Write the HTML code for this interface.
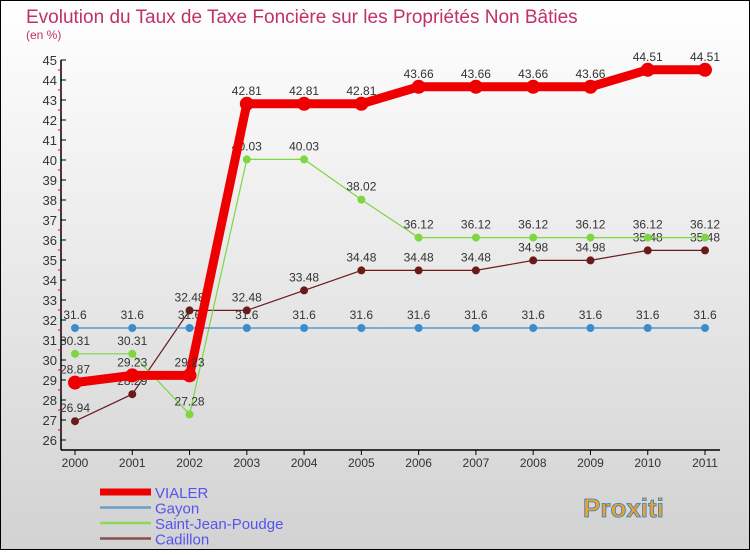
<!DOCTYPE html>
<html><head><meta charset="utf-8"><style>
body{margin:0;width:750px;height:550px;overflow:hidden;font-family:"Liberation Sans",sans-serif}
svg text{font-family:"Liberation Sans",sans-serif}
</style></head><body>
<svg id="chart" width="750" height="550" xmlns="http://www.w3.org/2000/svg">
<defs><linearGradient id="bg" x1="0" y1="0" x2="0" y2="1"><stop offset="0" stop-color="#ffffff"/><stop offset="1" stop-color="#d2d2d2"/></linearGradient></defs>
<rect x="0.5" y="0.5" width="749" height="549" fill="url(#bg)" stroke="#000"/>
<text x="26" y="23" font-size="19" fill="#c0306a">Evolution du Taux de Taxe Foncière sur les Propriétés Non Bâties</text>
<text x="26" y="39" font-size="12" fill="#c0306a">(en %)</text>
<g id="axes"></g>
<g id="series"></g>
<g id="legend"></g>
<text x="583" y="517" font-size="26" font-weight="bold" fill="#f0a030" stroke="#3080c0" stroke-width="0.8">Proxiti</text>
</svg>
<script>
const years=["2000","2001","2002","2003","2004","2005","2006","2007","2008","2009","2010","2011"];
const vialer=[28.87,29.23,29.23,42.81,42.81,42.81,43.66,43.66,43.66,43.66,44.51,44.51];
const gayon=[31.6,31.6,31.6,31.6,31.6,31.6,31.6,31.6,31.6,31.6,31.6,31.6];
const saintJean=[30.31,30.31,27.28,40.03,40.03,38.02,36.12,36.12,36.12,36.12,36.12,36.12];
const cadillon=[26.94,28.29,32.48,32.48,33.48,34.48,34.48,34.48,34.98,34.98,35.48,35.48];
const yTicks=[26,27,28,29,30,31,32,33,34,35,36,37,38,39,40,41,42,43,44,45];
const NS="http://www.w3.org/2000/svg";
function x(i){return 75+i*(630/11);}
function y(v){return 440-(v-26)*20;}
function mk(tag,attrs,parent){const e=document.createElementNS(NS,tag);for(const k in attrs)e.setAttribute(k,attrs[k]);parent.appendChild(e);return e;}
const axes=document.getElementById('axes');
let e=mk('line',{x1:61,y1:y(45),x2:61,y2:450,stroke:'#000','stroke-width':1.5},axes);


e=mk('line',{x1:61,y1:450,x2:720,y2:450,stroke:'#000','stroke-width':1.5},axes);


yTicks.forEach(t=>{
 mk('line',{x1:61,y1:y(t),x2:66,y2:y(t),stroke:'#000'},axes);
 if(t<45)mk('line',{x1:58,y1:y(t+0.5),x2:62,y2:y(t+0.5),stroke:'#e00'},axes);
 const tx=mk('text',{x:57,y:y(t)+5,'font-size':13,'text-anchor':'end',fill:'#333'},axes);
 tx.textContent=t;
 
 
});
years.forEach((yr,i)=>{
 mk('line',{x1:x(i),y1:450,x2:x(i),y2:455,stroke:'#000'},axes);
 const tx=mk('text',{x:x(i),y:467,'font-size':12,'text-anchor':'middle',fill:'#333'},axes);
 tx.textContent=yr;
 
 
});
const series=[
 {name:'cadillon',label:'Cadillon',data:cadillon,color:'#6b1a1a',w:1.2,r:4,lc:'#8a5050'},
 {name:'saint-jean-poudge',label:'Saint-Jean-Poudge',data:saintJean,color:'#7ed640',w:1.2,r:4,lc:'#8fd860'},
 {name:'gayon',label:'Gayon',data:gayon,color:'#3a8ccc',w:1.2,r:4,lc:'#6aa0c8'},
 {name:'vialer',label:'VIALER',data:vialer,color:'#ee0000',w:9,r:7,lc:'#ee0000'}
];
const sg=document.getElementById('series');
series.forEach(s=>{
 const g=mk('g',{},sg);
 
 
 const pl=mk('polyline',{points:s.data.map((v,i)=>x(i)+','+y(v)).join(' '),fill:'none',stroke:s.color,'stroke-width':s.w,'stroke-linejoin':'round'},g);
 
 
 s.data.forEach((v,i)=>{
  const c=mk('circle',{cx:x(i),cy:y(v),r:s.r,fill:s.color},g);
  
  
  const t=mk('text',{x:x(i),y:y(v)-9,'font-size':12,'text-anchor':'middle',fill:'#333'},g);
  t.textContent=String(v);
  
  
 });
});
const lg=document.getElementById('legend');
[series[3],series[2],series[1],series[0]].forEach((s,k)=>{
 const yy=492+k*15.5;
 const g=mk('g',{},lg);
 
 
 mk('line',{x1:100,y1:yy,x2:151,y2:yy,stroke:s.lc,'stroke-width':k==0?7:2.5},g);
 const t=mk('text',{x:155,y:yy+6,'font-size':15,fill:'#5555ee'},g);
 t.textContent=s.label;
});
</script>
</body></html>
